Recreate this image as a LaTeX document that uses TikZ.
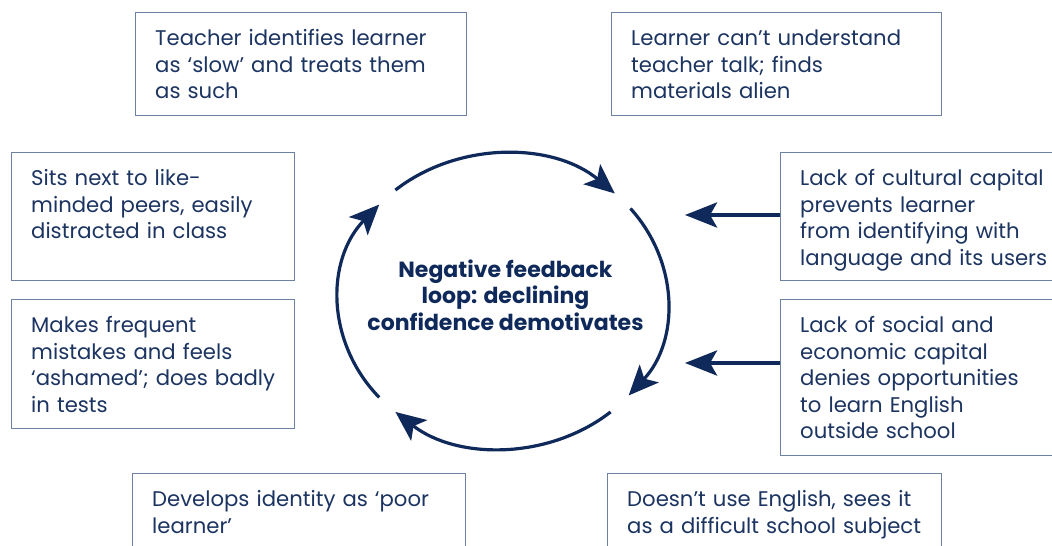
\documentclass[tikz,border=0pt]{standalone}
\usepackage{fontspec}
\setmainfont{Poppins}
\usetikzlibrary{arrows.meta,calc}
\definecolor{navy}{HTML}{0F2A5A}
\definecolor{txtc}{HTML}{1C3461}
\definecolor{bordc}{HTML}{6D82A3}
\begin{document}
\begin{tikzpicture}[x=1pt,y=1pt,
  boxnode/.style={draw=bordc,line width=1.3pt,anchor=north west,inner sep=0pt},
  txt/.style={anchor=base west,text width=330pt,align=left,inner sep=0pt,text=txtc,
    font=\fontsize{21.2}{26.5}\selectfont},
  ctr/.style={align=center,inner sep=0pt,text=navy,font=\bfseries\fontsize{22}{26.5}\selectfont},
  feed/.style={draw=navy,line width=4.2pt,-{Stealth[length=32pt,width=25pt,inset=7pt]}},
  loopline/.style={draw=navy,line width=3.2pt,-{Stealth[length=30pt,width=26pt,inset=7pt]}}
]
\useasboundingbox (0,0) rectangle (1052,546);
\clip (0,0) rectangle (1052,546);
\fill[white] (0,0) rectangle (1052,546);

\node[boxnode,minimum width=331pt,minimum height=103pt] (b1) at (135,534) {};
\node[boxnode,minimum width=330pt,minimum height=103pt] (b2) at (611,534) {};
\node[boxnode,minimum width=283pt,minimum height=128pt] (b3) at (11,394) {};
\node[boxnode,minimum width=283pt,minimum height=129pt] (b4) at (11,247) {};
\node[boxnode,minimum width=300pt,minimum height=128pt] (b5) at (780,394) {};
\node[boxnode,minimum width=300pt,minimum height=156pt] (b6) at (780,247) {};
\node[boxnode,minimum width=333pt,minimum height=100pt] (b7) at (132,73) {};
\node[boxnode,minimum width=334pt,minimum height=100pt] (b8) at (607,73) {};

\node[txt] (t1) at ($(b1.north west)+(20,-34)$) {Teacher identifies learner\\as ‘slow’ and treats them\\as such};
\node[txt] (t2) at ($(b2.north west)+(20,-34)$) {Learner can’t understand\\teacher talk; finds\\materials alien};
\node[txt] (t3) at ($(b3.north west)+(20,-34)$) {Sits next to like-\\minded peers, easily\\distracted in class};
\node[txt] (t4) at ($(b4.north west)+(20,-34)$) {Makes frequent\\mistakes and feels\\‘ashamed’; does badly\\in tests};
\node[txt] (t5) at ($(b5.north west)+(20,-34)$) {Lack of cultural capital\\prevents learner\\from identifying with\\language and its users};
\node[txt] (t6) at ($(b6.north west)+(20,-34)$) {Lack of social and\\economic capital\\denies opportunities\\to learn English\\outside school};
\node[txt] (t7) at ($(b7.north west)+(20,-34)$) {Develops identity as ‘poor\\learner’};
\node[txt] (t8) at ($(b8.north west)+(20,-34)$) {Doesn’t use English, sees it\\as a difficult school subject};

\coordinate (c) at (503,245);
\node[ctr] (center) at (505.5,251) {Negative feedback\\loop: declining\\confidence demotivates};

\coordinate (tip1) at (685,331);
\coordinate (tip2) at (685,183);
\draw[feed] (b5.west |- tip1) -- (tip1);
\draw[feed] (b6.west |- tip2) -- (tip2);

\draw[loopline] ([shift={(131:164pt and 147pt)}]c) arc[start angle=131,end angle=47,x radius=164pt,y radius=147pt];
\draw[loopline] ([shift={(39:164pt and 147pt)}]c) arc[start angle=39,end angle=-40,x radius=164pt,y radius=147pt];
\draw[loopline] ([shift={(-49:164pt and 147pt)}]c) arc[start angle=-49,end angle=-131,x radius=164pt,y radius=147pt];
\draw[loopline] ([shift={(221:164pt and 147pt)}]c) arc[start angle=221,end angle=139,x radius=164pt,y radius=147pt];
\end{tikzpicture}
\end{document}
